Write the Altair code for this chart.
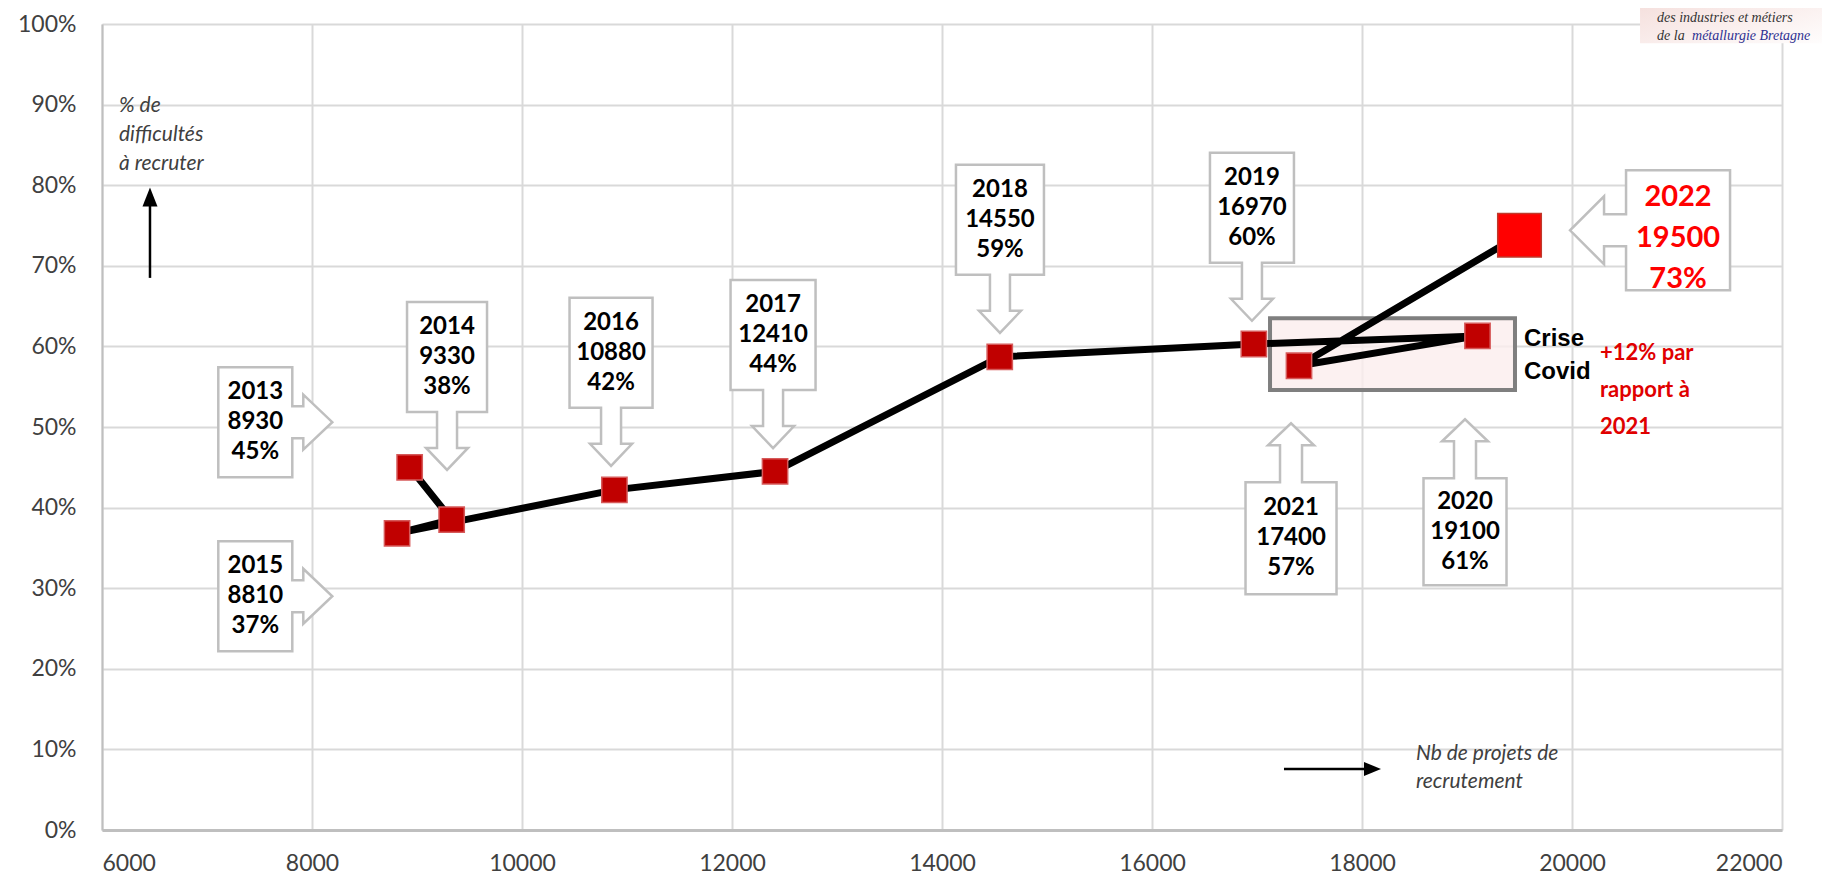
import altair as alt
import pandas as pd

# ---------------- data ----------------
years = [2013, 2014, 2015, 2016, 2017, 2018, 2019, 2020, 2021, 2022]
projets = [8930, 9330, 8810, 10880, 12410, 14550, 16970, 19100, 17400, 19500]
pct_plot = [0.450, 0.385, 0.368, 0.422, 0.445, 0.587, 0.603, 0.613, 0.576, 0.738]
pct_label = [45, 38, 37, 42, 44, 59, 60, 61, 57, 73]

x_ticks = [6000, 8000, 10000, 12000, 14000, 16000, 18000, 20000, 22000]
y_ticks = [0, 0.1, 0.2, 0.3, 0.4, 0.5, 0.6, 0.7, 0.8, 0.9, 1.0]

# callout boxes (annotation layout, data units)
callout_x = [7460, 9286, 7460, 10848, 12391, 14552, 16952, 18981, 17324, 21010]
callout_y = [0.506, 0.587, 0.290, 0.592, 0.614, 0.757, 0.772, 0.370, 0.362, 0.744]
callout_dir = ["right", "down", "right", "down", "down", "down", "down", "up", "up", "left"]
callout_w = [74, 80, 74, 83, 85, 88, 84, 83, 91, 104]
callout_h = [110, 110, 110, 110, 110, 110, 110, 107, 112, 120]

# arrow geometry per direction: shaft width, shaft length, head width, head length
arrow_geo = {
    "down": (20, 36, 42, 22),
    "up": (22, 37, 46, 22),
    "right": (32, 11, 55, 29),
    "left": (32, 22, 68, 34),
}


def callout_path(w, h, d):
    sw, sl, hw, hl = arrow_geo[d]
    if d in ("down", "up"):
        a, b = w, h
    else:
        a, b = h, w
    pts = [(-a / 2, -b / 2), (a / 2, -b / 2), (a / 2, b / 2), (sw / 2, b / 2),
           (sw / 2, b / 2 + sl), (hw / 2, b / 2 + sl), (0, b / 2 + sl + hl),
           (-hw / 2, b / 2 + sl), (-sw / 2, b / 2 + sl), (-sw / 2, b / 2), (-a / 2, b / 2)]
    tf = {"down": lambda u, v: (u, v), "up": lambda u, v: (u, -v),
          "right": lambda u, v: (v, u), "left": lambda u, v: (-v, u)}[d]
    P = [tf(u, v) for u, v in pts]
    return "M" + "L".join(f"{x:.1f},{y:.1f}" for x, y in P) + "Z"


# ---------------- scales / axes ----------------
xs = alt.Scale(domain=[6000, 22000], nice=False, zero=False)
ys = alt.Scale(domain=[0, 1], nice=False)
xaxis = alt.Axis(values=x_ticks, format="d", title=None, ticks=False, tickSize=0,
                 labelPadding=22, grid=True, gridColor="#D9D9D9", gridWidth=2,
                 domainColor="#BFBFBF", domainWidth=3)
yaxis = alt.Axis(values=y_ticks, format=".0%", title=None, ticks=False, tickSize=0,
                 labelPadding=26, grid=True, gridColor="#D9D9D9", gridWidth=2,
                 domainColor="#BFBFBF", domainWidth=2)


def X(f):
    return alt.X(f, type="quantitative", scale=xs, axis=xaxis)


def Y(f):
    return alt.Y(f, type="quantitative", scale=ys, axis=yaxis)


df = pd.DataFrame({"year": years, "projets": projets, "pct": pct_plot,
                   "label": [f"{a}\n{b}\n{c}%" for a, b, c in zip(years, projets, pct_label)],
                   "cx": callout_x, "cy": callout_y})

layers = []

# Covid box
covid = pd.DataFrame({"x": [17124], "x2": [19457], "y": [0.546], "y2": [0.635]})
layers.append(alt.Chart(covid).mark_rect(fill="#FBEDED", fillOpacity=0.8, stroke="#7F7F7F",
                                         strokeWidth=4).encode(
    x=X("x"), x2="x2", y=Y("y"), y2="y2"))

# callout shapes
for i in range(len(years)):
    row = pd.DataFrame({"cx": [callout_x[i]], "cy": [callout_y[i]]})
    layers.append(alt.Chart(row).mark_point(
        shape=callout_path(callout_w[i], callout_h[i], callout_dir[i]), size=4,
        filled=True, fill="white", stroke="#BFBFBF", strokeWidth=2.5, opacity=1,
        fillOpacity=1, strokeOpacity=1).encode(x=X("cx"), y=Y("cy")))

# callout texts
layers.append(alt.Chart(df).transform_filter("datum.year != 2022").mark_text(
    lineBreak="\n", font="Lato", fontWeight="bold", fontSize=24, lineHeight=30,
    align="center", baseline="middle", color="#000000", dy=-30).encode(
    x=X("cx"), y=Y("cy"), text="label:N"))
layers.append(alt.Chart(df).transform_filter("datum.year == 2022").mark_text(
    lineBreak="\n", font="Lato", fontWeight="bold", fontSize=29, lineHeight=41,
    align="center", baseline="middle", color="#FF0000", dy=-33).encode(
    x=X("cx"), y=Y("cy"), text="label:N"))

# line
layers.append(alt.Chart(df).mark_line(color="#000000", strokeWidth=7).encode(
    x=X("projets"), y=Y("pct"), order="year:O"))

# markers
layers.append(alt.Chart(df).transform_filter("datum.year != 2022").mark_square(
    size=640, fill="#C00000", stroke="#D65A5A", strokeWidth=1.5, opacity=1).encode(
    x=X("projets"), y=Y("pct")))
layers.append(alt.Chart(df).transform_filter("datum.year == 2022").mark_square(
    size=1900, fill="#FF0000", stroke="#C0392B", strokeWidth=1.5, opacity=1).encode(
    x=X("projets"), y=Y("pct")))

# Crise Covid text
layers.append(alt.Chart(pd.DataFrame({"x": [19543], "y": [0.589], "t": ["Crise\nCovid"]})).mark_text(
    lineBreak="\n", font="Liberation Sans", fontWeight="bold", fontSize=24, lineHeight=33,
    align="left", baseline="middle", color="#000000", dy=-16).encode(x=X("x"), y=Y("y"), text="t:N"))

# red note
layers.append(alt.Chart(pd.DataFrame({"x": [20267], "y": [0.546],
                                      "t": ["+12% par\nrapport à\n2021"]})).mark_text(
    lineBreak="\n", font="Lato", fontWeight="bold", fontSize=22, lineHeight=37,
    align="left", baseline="middle", color="#E00000", dy=-37).encode(x=X("x"), y=Y("y"), text="t:N"))

# axis annotations (italic)
layers.append(alt.Chart(pd.DataFrame({"x": [6162], "y": [0.862],
                                      "t": ["% de\ndifficultés\nà recruter"]})).mark_text(
    lineBreak="\n", font="Lato", fontStyle="italic", fontSize=21, lineHeight=29,
    align="left", baseline="middle", color="#404040", dy=-29).encode(x=X("x"), y=Y("y"), text="t:N"))
layers.append(alt.Chart(pd.DataFrame({"x": [18514], "y": [0.077],
                                      "t": ["Nb de projets de\nrecrutement"]})).mark_text(
    lineBreak="\n", font="Lato", fontStyle="italic", fontSize=21, lineHeight=28,
    align="left", baseline="middle", color="#404040", dy=-14).encode(x=X("x"), y=Y("y"), text="t:N"))

# arrows
layers.append(alt.Chart(pd.DataFrame({"x": [6457], "y": [0.685], "y2": [0.785]})).mark_rule(
    color="#000000", strokeWidth=2.5).encode(x=X("x"), y=Y("y"), y2="y2"))
layers.append(alt.Chart(pd.DataFrame({"x": [6457], "y": [0.797]})).mark_point(
    shape="M0,0L7.5,19L-7.5,19Z", size=4, filled=True, fill="#000000", stroke=None,
    opacity=1).encode(x=X("x"), y=Y("y")))
layers.append(alt.Chart(pd.DataFrame({"x": [17257], "x2": [18050], "y": [0.0757]})).mark_rule(
    color="#000000", strokeWidth=2.5).encode(x=X("x"), x2="x2", y=Y("y")))
layers.append(alt.Chart(pd.DataFrame({"x": [18181], "y": [0.0757]})).mark_point(
    shape="M0,0L-17,-7L-17,7Z", size=4, filled=True, fill="#000000", stroke=None,
    opacity=1).encode(x=X("x"), y=Y("y")))

# logo (top right)
layers.append(alt.Chart(pd.DataFrame({"x": [20648], "x2": [22600], "y": [0.976], "y2": [1.05]})).mark_rect(
    fill=alt.Gradient(gradient="linear",
                      stops=[alt.GradientStop(color="#F3D9D6", offset=0),
                             alt.GradientStop(color="#FFFFFF", offset=1)],
                      x1=0, x2=1, y1=0, y2=1)).encode(x=X("x"), x2="x2", y=Y("y"), y2="y2"))
logo = pd.DataFrame({"x": [20810, 20810, 21143], "y": [1.008, 0.985, 0.985],
                     "t": ["des industries et métiers", "de la", "métallurgie Bretagne"],
                     "c": ["#333333", "#333333", "#2E3192"]})
layers.append(alt.Chart(logo).mark_text(font="Liberation Serif", fontStyle="italic", fontSize=14,
                                        align="left", baseline="middle").encode(
    x=X("x"), y=Y("y"), text="t:N", color=alt.Color("c:N", scale=None)))

chart = alt.layer(*layers).properties(
    width=1680, height=806,
    padding={"left": 94, "top": 16, "right": 40, "bottom": 45},
    autosize=alt.AutoSizeParams(type="none"),
).configure_view(stroke=None).configure_axis(
    labelFont="Lato", labelFontSize=23, labelColor="#404040"
)

chart.save("out.html", embed_options={"renderer": "svg", "actions": False})
